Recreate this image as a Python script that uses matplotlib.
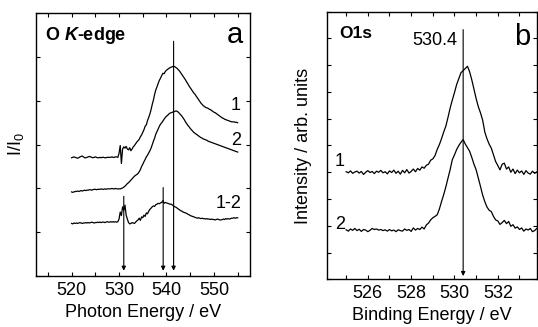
import numpy as np
import matplotlib
matplotlib.use('Agg')
import matplotlib.pyplot as plt
from matplotlib.ticker import MultipleLocator, NullFormatter

plt.rcParams['font.family'] = ['Liberation Sans', 'DejaVu Sans']
plt.rcParams['mathtext.fontset'] = 'custom'
plt.rcParams['mathtext.rm'] = 'Liberation Sans'
plt.rcParams['mathtext.it'] = 'Liberation Sans:italic'
plt.rcParams['mathtext.bf'] = 'Liberation Sans:bold'
plt.rcParams['mathtext.bfit'] = 'Liberation Sans:italic:bold'

# panel a: O K-edge, photon energy grid 520..555 eV, 0.25 eV step
e_a = np.arange(520, 555.01, 0.25)
xas_1 = [
    2.70, 2.71, 2.72, 2.71,  2.70, 2.69, 2.70, 2.72,  2.73, 2.74, 2.72, 2.70,
    2.70, 2.71, 2.72, 2.73,  2.72, 2.71, 2.70, 2.71,  2.72, 2.71, 2.70, 2.70,
    2.71, 2.70, 2.71, 2.71,  2.70, 2.70, 2.71, 2.71,  2.71, 2.71, 2.72, 2.71,
    2.71, 2.72, 2.72, 2.71,  2.80, 2.98, 2.57, 2.90,  2.95, 2.92, 2.96, 2.90,
    2.88, 2.93, 2.86, 2.90,  2.95, 2.98, 3.02, 3.06,  3.09, 3.12, 3.18, 3.22,
    3.28, 3.34, 3.42, 3.45,  3.55, 3.62, 3.70, 3.80,  3.92, 4.02, 4.15, 4.25,
    4.32, 4.40, 4.47, 4.52,  4.58, 4.63, 4.62, 4.67,  4.70, 4.72, 4.74, 4.76,
    4.77, 4.78, 4.79, 4.78,  4.76, 4.74, 4.71, 4.68,  4.64, 4.60, 4.56, 4.52,
    4.48, 4.43, 4.39, 4.34,  4.30, 4.26, 4.22, 4.18,  4.15, 4.11, 4.07, 4.03,
    3.99, 3.95, 3.92, 3.89,  3.87, 3.85, 3.84, 3.83,  3.81, 3.80, 3.78, 3.76,
    3.74, 3.73, 3.71, 3.69,  3.67, 3.65, 3.63, 3.61,  3.60, 3.58, 3.57, 3.56,
    3.55, 3.54, 3.53, 3.52,  3.52, 3.52, 3.51, 3.51,  3.50]
xas_2 = [
    1.92, 1.91, 1.92, 1.93,  1.93, 1.94, 1.93, 1.94,  1.95, 1.94, 1.95, 1.96,
    1.95, 1.96, 1.96, 1.97,  1.97, 1.96, 1.97, 1.98,  1.98, 1.97, 1.98, 1.98,
    1.98, 1.99, 1.98, 1.98,  1.99, 1.98, 1.99, 1.99,  1.99, 1.99, 2.00, 1.99,
    1.99, 2.00, 1.99, 1.99,  1.99, 1.99, 2.00, 2.01,  2.03, 2.05, 2.08, 2.11,
    2.13, 2.16, 2.19, 2.22,  2.25, 2.28, 2.30, 2.32,  2.34, 2.38, 2.43, 2.50,
    2.55, 2.61, 2.66, 2.72,  2.76, 2.81, 2.86, 2.92,  3.00, 3.08, 3.15, 3.24,
    3.30, 3.36, 3.42, 3.47,  3.50, 3.54, 3.58, 3.62,  3.65, 3.67, 3.70, 3.72,
    3.73, 3.74, 3.75, 3.76,  3.77, 3.76, 3.74, 3.71,  3.68, 3.65, 3.61, 3.57,
    3.52, 3.48, 3.44, 3.41,  3.37, 3.34, 3.31, 3.28,  3.26, 3.24, 3.22, 3.20,
    3.18, 3.16, 3.15, 3.13,  3.12, 3.11, 3.10, 3.08,  3.07, 3.06, 3.05, 3.04,
    3.03, 3.02, 3.01, 3.00,  2.99, 2.98, 2.97, 2.96,  2.95, 2.94, 2.93, 2.92,
    2.91, 2.90, 2.89, 2.88,  2.87, 2.86, 2.85, 2.84,  2.83]
xas_diff = [
    1.20, 1.19, 1.21, 1.20,  1.21, 1.20, 1.21, 1.22,  1.21, 1.20, 1.21, 1.21,
    1.22, 1.21, 1.22, 1.21,  1.22, 1.23, 1.22, 1.21,  1.22, 1.22, 1.23, 1.22,
    1.23, 1.22, 1.23, 1.23,  1.22, 1.23, 1.24, 1.23,  1.23, 1.24, 1.23, 1.24,
    1.23, 1.24, 1.23, 1.24,  1.30, 1.46, 1.38, 1.58,  1.50, 1.62, 1.39, 1.30,
    1.22, 1.19, 1.20, 1.22,  1.21, 1.20, 1.23, 1.26,  1.28, 1.32, 1.27, 1.35,
    1.33, 1.39, 1.36, 1.44,  1.42, 1.48, 1.52, 1.55,  1.58, 1.60, 1.59, 1.63,
    1.64, 1.66, 1.65, 1.67,  1.68, 1.72, 1.66, 1.68,  1.67, 1.66, 1.65, 1.64,
    1.64, 1.62, 1.60, 1.58,  1.57, 1.55, 1.53, 1.51,  1.49, 1.48, 1.46, 1.45,
    1.44, 1.43, 1.41, 1.40,  1.38, 1.37, 1.36, 1.35,  1.34, 1.33, 1.32, 1.33,
    1.32, 1.31, 1.32, 1.31,  1.31, 1.30, 1.31, 1.30,  1.30, 1.29, 1.30, 1.29,
    1.29, 1.28, 1.29, 1.30,  1.29, 1.28, 1.28, 1.29,  1.30, 1.29, 1.31, 1.30,
    1.31, 1.30, 1.31, 1.32,  1.32, 1.33, 1.32, 1.33,  1.33]
arrows_a = [531.0, 539.3, 541.5]
arrow_tops_a = [1.82, 2.02, 5.36]

# panel b: O1s XPS, binding energy 525.0..533.8 eV, 0.1 eV step
e_b = np.arange(525.0, 533.81, 0.1)
xps_1 = [
    4.02, 3.98, 4.05, 3.96, 4.01, 4.04, 3.97, 4.03, 3.92, 4.00,
    4.06, 3.99, 4.03, 3.95, 4.04, 4.00, 4.07, 3.98, 4.02, 3.94,
    4.05, 3.99, 4.08, 3.96, 4.04, 3.93, 4.07, 3.98, 4.10, 3.97,
    4.03, 4.12, 4.02, 4.14, 4.08, 4.20, 4.15, 4.26, 4.30, 4.45,
    4.50, 4.62, 4.85, 5.03, 5.25, 5.50, 5.72, 6.05, 6.40, 6.70,
    6.98, 7.28, 7.50, 7.72, 7.80, 7.88, 7.96, 7.75, 7.45, 7.10,
    6.75, 6.45, 6.22, 5.95, 5.50, 5.25, 5.05, 4.90, 4.65, 4.40,
    4.25, 4.09, 4.30, 4.34, 4.12, 4.20, 4.00, 4.12, 3.95, 4.08,
    3.98, 4.05, 3.92, 4.06, 3.97, 3.93, 4.04, 3.96, 4.01]
xps_2 = [
    1.85, 1.80, 1.88, 1.83, 1.90, 1.82, 1.87, 1.79, 1.86, 1.84,
    1.78, 1.83, 1.90, 1.86, 1.88, 1.84, 1.86, 1.82, 1.85, 1.80,
    1.86, 1.81, 1.84, 1.78, 1.85, 1.82, 1.80, 1.88, 1.83, 1.86,
    1.79, 1.92, 1.84, 1.90, 1.86, 1.95, 1.88, 2.03, 2.10, 2.22,
    2.30, 2.35, 2.41, 2.62, 2.90, 3.16, 3.45, 3.78, 4.10, 4.47,
    4.65, 4.85, 5.00, 5.12, 5.22, 5.05, 4.92, 4.78, 4.55, 4.30,
    4.09, 3.78, 3.47, 3.15, 2.90, 2.70, 2.58, 2.53, 2.35, 2.22,
    2.18, 2.05, 2.12, 2.20, 2.08, 2.16, 1.98, 2.04, 1.91, 1.96,
    1.86, 1.92, 1.80, 1.88, 1.84, 1.90, 1.78, 1.82, 1.90]
peak_b = 530.4

fig = plt.figure(figsize=(5.38, 3.27), dpi=100)
ax1 = fig.add_axes([0.0669, 0.156, 0.3978, 0.8034])
ax2 = fig.add_axes([0.6072, 0.1459, 0.3918, 0.8183])

def style(ax):
    for s in ax.spines.values():
        s.set_linewidth(1.0)
    ax.tick_params(which='both', direction='in', top=True, right=True,
                   length=3, width=0.8, labelsize=13, pad=4)
    ax.yaxis.set_major_formatter(NullFormatter())

# ---- panel a
ax1.plot(e_a, xas_1, color='black', lw=0.9)
ax1.plot(e_a, xas_2, color='black', lw=0.9)
ax1.plot(e_a, xas_diff, color='black', lw=0.9)
for x, top in zip(arrows_a, arrow_tops_a):
    ax1.annotate('', xy=(x, 0.12), xytext=(x, top),
                 arrowprops=dict(arrowstyle='-|>', color='black', lw=0.8,
                                 mutation_scale=6, shrinkA=0, shrinkB=0))
ax1.set_xlim(512.5, 557.6)
ax1.set_ylim(0, 6)
ax1.xaxis.set_major_locator(MultipleLocator(10))
ax1.xaxis.set_minor_locator(MultipleLocator(5))
ax1.yaxis.set_major_locator(MultipleLocator(1))
style(ax1)
ax1.set_xlabel('Photon Energy / eV', fontsize=13)
ax1.set_ylabel(r'I/I$_0$', fontsize=13)
ax1.yaxis.set_label_coords(-0.045, 0.5)
ax1.text(0.042, 0.917, r'O $\mathbfit{K}$-edge', transform=ax1.transAxes,
         fontsize=13, fontweight='bold', ha='left', va='center')
ax1.text(0.967, 0.917, 'a', transform=ax1.transAxes, fontsize=21,
         ha='right', va='center')
ax1.text(554.6, 3.89, '1', fontsize=13, ha='center', va='center')
ax1.text(554.6, 3.09, '2', fontsize=13, ha='center', va='center')
ax1.text(553.1, 1.65, '1-2', fontsize=13, ha='center', va='center')

# ---- panel b
ax2.plot(e_b, xps_1, color='black', lw=0.9)
ax2.plot(e_b, xps_2, color='black', lw=0.9)
ax2.annotate('', xy=(peak_b, 0.12), xytext=(peak_b, 9.33),
             arrowprops=dict(arrowstyle='-|>', color='black', lw=0.8,
                             mutation_scale=6, shrinkA=0, shrinkB=0))
ax2.set_xlim(524.1, 533.83)
ax2.set_ylim(0, 10)
ax2.xaxis.set_major_locator(MultipleLocator(2))
ax2.xaxis.set_minor_locator(MultipleLocator(1))
ax2.yaxis.set_major_locator(MultipleLocator(1))
style(ax2)
ax2.set_xlabel('Binding Energy / eV', fontsize=13)
ax2.set_ylabel('Intensity / arb. units', fontsize=13)
ax2.yaxis.set_label_coords(-0.07, 0.5)
ax2.text(0.06, 0.92, 'O1s', transform=ax2.transAxes, fontsize=12.5,
         fontweight='bold', ha='left', va='center')
ax2.text(530.14, 8.94, '530.4', fontsize=13, ha='right', va='center')
ax2.text(533.13, 9.07, 'b', fontsize=21, ha='center', va='center')
ax2.text(524.71, 4.39, '1', fontsize=13, ha='center', va='center')
ax2.text(524.7, 2.03, '2', fontsize=13, ha='center', va='center')

fig.savefig('out.png', dpi=100)
